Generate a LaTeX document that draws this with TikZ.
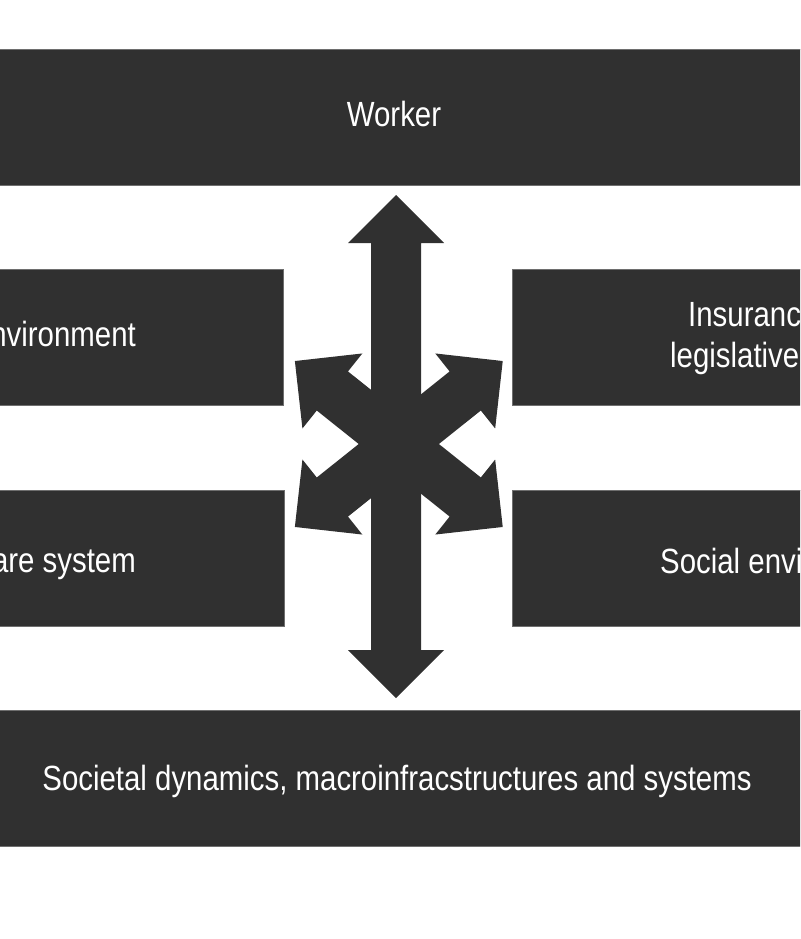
\documentclass[tikz,border=0pt]{standalone}
\usepackage{fontspec}
\setmainfont{Liberation Sans}[FakeStretch=0.84]
\usepackage{tikz}
\definecolor{gris}{RGB}{48,48,48}
\definecolor{borde}{RGB}{110,110,110}
\tikzstyle{caja}=[fill=gris,draw=borde,line width=0.6pt]
\tikzstyle{texto}=[text=white,inner sep=0pt,font=\fontsize{35}{40}\selectfont]
\tikzstyle{flecha}=[fill=gris]
% double block arrow along x, half length #1
\newcommand{\dobleflecha}[1]{%
  \fill[flecha] (#1,0) -- (#1-48,48) -- (#1-48,25) -- (-#1+48,25) -- (-#1+48,48)
    -- (-#1,0) -- (-#1+48,-48) -- (-#1+48,-25) -- (#1-48,-25) -- (#1-48,-48) -- cycle;}

\begin{document}
\begin{tikzpicture}[x=1pt,y=-1pt]
    \useasboundingbox (0,0) rectangle (800,939);
    \begin{scope}
    \clip (0,0) rectangle (800,939);
    \draw [caja] (-10,49) rectangle (810,185);
    \draw [caja] (-10,269) rectangle (283,405);
    \draw [caja] (-10,490) rectangle (284,626);
    \draw [caja] (512,269) rectangle (810,405);
    \draw [caja] (512,490) rectangle (810,626);
    \draw [caja] (-10,710) rectangle (810,846);
    \end{scope}
    % arrows
    \begin{scope}[shift={(396,446.5)},rotate=90]
      \dobleflecha{251.5}
    \end{scope}
    \begin{scope}[shift={(398.8,444)},rotate=-38.6]
      \dobleflecha{133}
    \end{scope}
    \begin{scope}[shift={(398.8,444)},rotate=38.6]
      \dobleflecha{133}
    \end{scope}
    % labels
    \node [texto,anchor=base] (t1) at (394,127) {Worker};
    \node [texto,anchor=base east] (t2) at (136,346) {nvironment};
    \node [texto,anchor=base east] (t3) at (136,572) {are system};
    \node [texto,anchor=base west] (t4) at (688,326) {Insuranc};
    \node [texto,anchor=base west] (t5) at (670,367) {legislative};
    \node [texto,anchor=base west] (t6) at (660,573) {Social envi};
    \node [texto,anchor=base] (t7) at (397,790) {Societal dynamics, macroinfracstructures and systems};
    \end{tikzpicture}
\end{document}
